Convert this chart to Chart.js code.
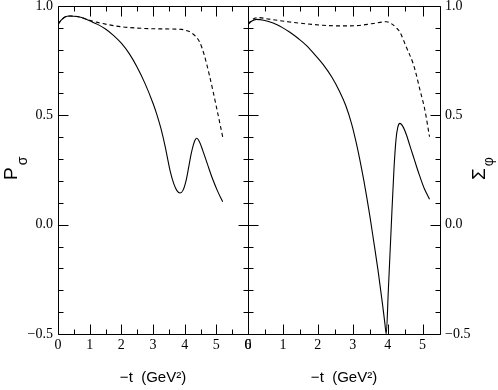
<!DOCTYPE html>
<html>
<head>
<meta charset="utf-8">
<script src="https://cdn.jsdelivr.net/npm/chart.js@4.4.0/dist/chart.umd.min.js"></script>
<style>
  html, body { margin: 0; padding: 0; background: #fff; }
  #wrap { position: relative; width: 498px; height: 390px; overflow: hidden; }
  canvas { position: absolute; top: 0; }
  #left { left: 0; }
  #right { left: 238px; }
</style>
</head>
<body>
<div id="wrap">
  <canvas id="left" width="262" height="390"></canvas>
  <canvas id="right" width="260" height="390"></canvas>
</div>
<script>
/* =============================================
   P_sigma (left) and Sigma_phi (right) vs -t
   ============================================= */

// --- data: left panel (P_sigma) ---
const pSolidT = [0, 0.1, 0.22, 0.38, 0.6, 0.85, 1.0, 1.25, 1.5, 1.75, 2.0, 2.25, 2.5, 2.75, 3.0, 3.13, 3.25, 3.38, 3.47, 3.55, 3.65, 3.75, 3.85, 3.95, 4.05, 4.13, 4.2, 4.27, 4.33, 4.38, 4.47, 4.57, 4.73, 4.88, 5.05, 5.2];
const pSolid  = [0.916, 0.935, 0.95, 0.954, 0.952, 0.942, 0.932, 0.916, 0.895, 0.866, 0.83, 0.782, 0.72, 0.645, 0.555, 0.5, 0.44, 0.36, 0.295, 0.24, 0.19, 0.157, 0.145, 0.158, 0.205, 0.265, 0.32, 0.363, 0.387, 0.395, 0.378, 0.34, 0.272, 0.21, 0.15, 0.105];
const pDashT  = [0, 0.1, 0.22, 0.38, 0.6, 0.85, 1.0, 1.25, 1.5, 2.0, 2.5, 3.0, 3.5, 3.9, 4.05, 4.25, 4.47, 4.62, 4.78, 4.99, 5.2];
const pDash   = [0.916, 0.935, 0.95, 0.954, 0.952, 0.942, 0.935, 0.925, 0.917, 0.905, 0.899, 0.896, 0.895, 0.893, 0.888, 0.874, 0.836, 0.775, 0.684, 0.547, 0.402];

// --- data: right panel (Sigma_phi) ---
const sSolidT = [0, 0.1, 0.24, 0.45, 0.72, 1.0, 1.19, 1.45, 1.67, 1.9, 2.15, 2.4, 2.63, 2.8, 2.97, 3.1, 3.2, 3.32, 3.49, 3.6, 3.73, 3.85, 3.92, 3.96, 4.02, 4.1, 4.18, 4.24, 4.29, 4.35, 4.45, 4.54, 4.63, 4.73, 4.83, 4.92, 5.05, 5.2];
const sSolid  = [0.916, 0.93, 0.939, 0.935, 0.922, 0.9, 0.881, 0.85, 0.82, 0.78, 0.733, 0.675, 0.607, 0.545, 0.46, 0.375, 0.3, 0.2, 0.04, -0.075, -0.215, -0.36, -0.45, -0.5, -0.3, -0.02, 0.25, 0.39, 0.445, 0.463, 0.445, 0.41, 0.365, 0.315, 0.265, 0.222, 0.165, 0.116];
const sDashT  = [0, 0.1, 0.3, 0.6, 1.19, 1.7, 2.15, 2.6, 3.1, 3.58, 3.97, 4.1, 4.25, 4.35, 4.54, 4.73, 4.83, 4.92, 5.06, 5.2];
const sDash   = [0.916, 0.935, 0.947, 0.94, 0.927, 0.918, 0.912, 0.909, 0.91, 0.92, 0.928, 0.92, 0.9, 0.881, 0.81, 0.737, 0.68, 0.62, 0.53, 0.402];

// --- axes ---
const leftXTicks  = [0, 1, 2, 3, 4, 5, 6];
const rightXTicks = [0, 1, 2, 3, 4, 5];
const yTicks      = [-0.5, 0.0, 0.5, 1.0];
const xTitle = '\u2212t  (GeV\u00b2)';

const SERIF = "'Liberation Serif', 'Times New Roman', serif";
const SANS = "'Liberation Sans', Arial, sans-serif";

const pts = (xs, ys) => xs.map((x, i) => ({ x, y: ys[i] }));

// frame + inward tick marks, drawn from the chart's own scales
const frameTicks = {
  id: 'frameTicks',
  afterDatasetsDraw(chart) {
    const { ctx, chartArea: a, scales } = chart;
    const xs = scales.x, ys = scales.y;
    const L = Math.round(a.left) + 0.5, R = Math.round(a.right) + 0.5;
    const T = Math.round(a.top) + 0.5, B = Math.round(a.bottom) + 0.5;
    ctx.save();
    ctx.strokeStyle = '#000';
    ctx.lineWidth = 1;
    ctx.beginPath();
    ctx.rect(L, T, R - L, B - T);
    for (let i = Math.round(xs.min * 2); i <= Math.round(xs.max * 2); i++) {
      const px = Math.round(xs.getPixelForValue(i / 2)) + 0.5;
      const len = i % 2 === 0 ? 10 : 5;
      ctx.moveTo(px, B); ctx.lineTo(px, B - len);
      ctx.moveTo(px, T); ctx.lineTo(px, T + len);
    }
    for (let i = -5; i <= 10; i++) {
      const py = Math.round(ys.getPixelForValue(i / 10)) + 0.5;
      const len = i % 5 === 0 ? 10 : 5;
      ctx.moveTo(L, py); ctx.lineTo(L + len, py);
      ctx.moveTo(R, py); ctx.lineTo(R - len, py);
    }
    ctx.stroke();
    ctx.restore();
  }
};

// rotated y title with a subscript (P_sigma, Sigma_phi)
const sideTitle = {
  id: 'sideTitle',
  afterDraw(chart, args, o) {
    const { ctx } = chart;
    ctx.save();
    ctx.fillStyle = '#000';
    ctx.translate(o.x, o.y);
    ctx.rotate(-Math.PI / 2);
    ctx.textBaseline = 'alphabetic';
    ctx.font = '19px ' + SANS;
    ctx.fillText(o.main, 0, 0);
    const w = ctx.measureText(o.main).width;
    ctx.font = '14px ' + SANS;
    ctx.fillText(o.sub, w + o.gap, o.drop);
    ctx.restore();
  }
};

Chart.defaults.color = '#000';
Chart.defaults.font.family = SERIF;
Chart.defaults.font.size = 14;

function makeChart(id, side, xMax, xTicks, solid, dash, title, padding) {
  return new Chart(document.getElementById(id), {
    type: 'line',
    data: {
      datasets: [
        { data: solid, borderColor: '#000', borderWidth: 1.1, pointRadius: 0, cubicInterpolationMode: 'monotone' },
        { data: dash, borderColor: '#000', borderWidth: 1.1, borderDash: [4, 3], pointRadius: 0, cubicInterpolationMode: 'monotone' }
      ]
    },
    options: {
      responsive: false,
      animation: false,
      layout: { padding },
      plugins: { legend: { display: false }, tooltip: { enabled: false }, sideTitle: title },
      scales: {
        x: {
          type: 'linear', min: 0, max: xMax,
          grid: { display: false, drawTicks: false },
          border: { display: false },
          afterBuildTicks: s => { s.ticks = xTicks.map(v => ({ value: v })); },
          ticks: { padding: 3, maxRotation: 0, font: { family: SERIF, size: 14 }, callback: v => String(v) },
          title: {
            display: true, text: xTitle, padding: { top: 0, bottom: 3 },
            font: { family: SANS, size: 15 }
          },
          afterFit: s => { s.height = 56; s.paddingLeft = 0; s.paddingRight = 0; }
        },
        y: {
          type: 'linear', position: side, min: -0.5, max: 1.0,
          grid: { display: false, drawTicks: false },
          border: { display: false },
          afterBuildTicks: s => { s.ticks = yTicks.map(v => ({ value: v })); },
          ticks: { padding: 5, font: { family: SERIF, size: 14 }, callback: v => v.toFixed(1).replace('-', '\u2212') },
          afterFit: s => { s.width = 58; s.paddingTop = 0; s.paddingBottom = 0; }
        }
      }
    },
    plugins: [frameTicks, sideTitle]
  });
}

makeChart('left', 'left', 6, leftXTicks, pts(pSolidT, pSolid), pts(pDashT, pDash),
  { main: 'P', sub: '\u03c3', x: 16.5, y: 180, gap: 2, drop: 10 },
  { top: 6, right: 14, left: 0, bottom: 0 });

makeChart('right', 'right', 5.5, rightXTicks, pts(sSolidT, sSolid), pts(sDashT, sDash),
  { main: '\u03a3', sub: '\u03c6', x: 247, y: 180, gap: 2, drop: 8 },
  { top: 6, right: 0, left: 10, bottom: 0 });
</script>
</body>
</html>
